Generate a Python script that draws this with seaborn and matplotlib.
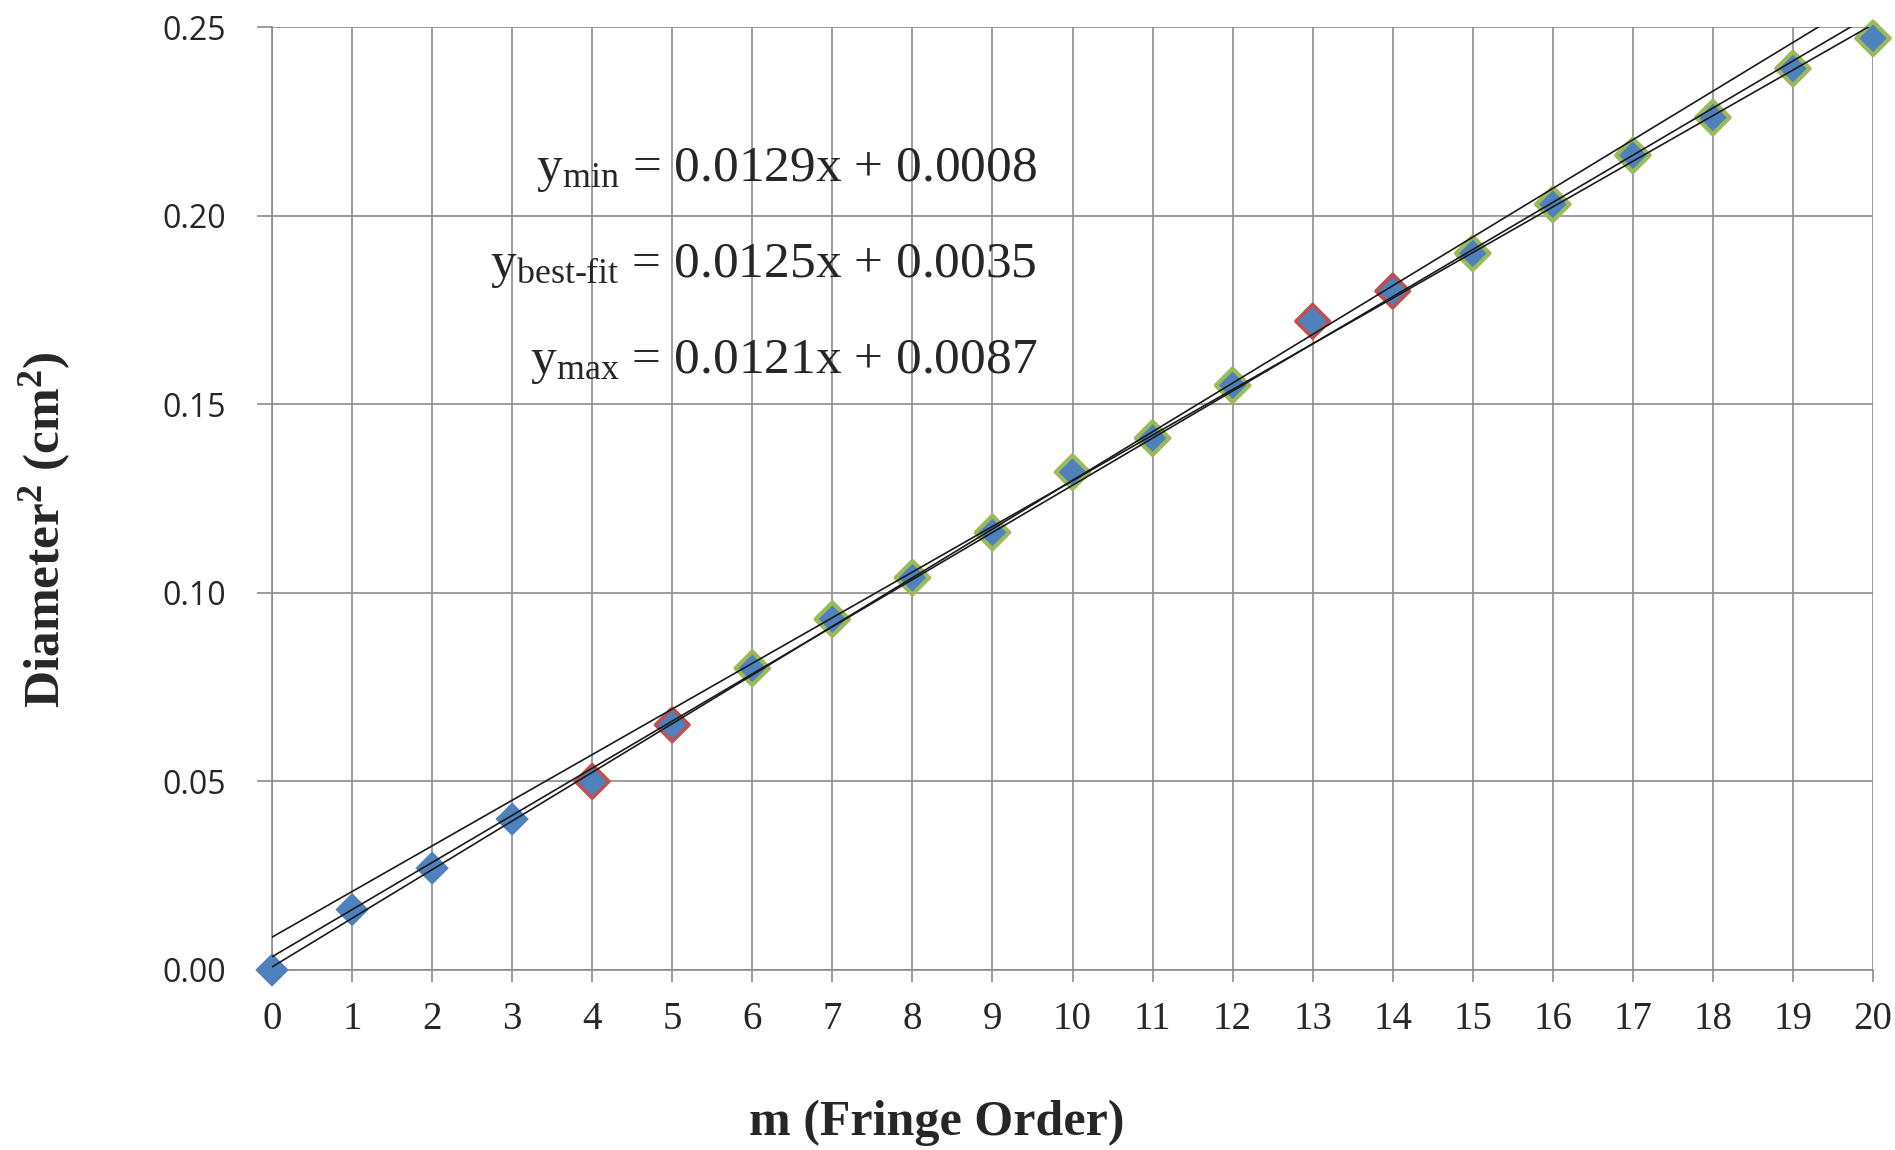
import matplotlib
matplotlib.use("Agg")
import matplotlib.pyplot as plt
import seaborn as sns
import numpy as np
import pandas as pd

# ---- data ----
m_order = list(range(0, 21))
diam_sq = [0.000, 0.016, 0.027, 0.040, 0.050, 0.065, 0.080, 0.093, 0.104, 0.116,
           0.132, 0.141, 0.155, 0.172, 0.180, 0.190, 0.203, 0.216, 0.226, 0.239, 0.247]
red_points = [4, 5, 13, 14]
green_points = [6, 7, 8, 9, 10, 11, 12, 15, 16, 17, 18, 19, 20]

fit_names = ["min", "best-fit", "max"]
fit_slopes = [0.0129, 0.0125, 0.0121]
fit_intercepts = [0.0008, 0.0035, 0.0087]
x_ticks = list(range(0, 21))
y_ticks = [0.00, 0.05, 0.10, 0.15, 0.20, 0.25]

BLUE = "#4F81BD"
RED = "#C0504D"
GREEN = "#9BBB59"
GRID = "#8C8C8C"

sns.set_theme(style="white")
plt.rcParams["mathtext.fontset"] = "custom"
plt.rcParams["mathtext.rm"] = "Liberation Serif"
plt.rcParams["mathtext.bf"] = "Liberation Serif:bold"
plt.rcParams["mathtext.it"] = "Liberation Serif:italic"

W, H = 1895, 1150
fig = plt.figure(figsize=(W / 100, H / 100), dpi=100)
ax = fig.add_axes([272 / W, 1 - 970 / H, (1873 - 272) / W, (970 - 27) / H])

MS = 290
df = pd.DataFrame({"m": m_order, "d2": diam_sq})
sns.scatterplot(data=df, x="m", y="d2", marker="D", s=MS, color=BLUE,
                edgecolor="none", linewidth=0, ax=ax, zorder=3, legend=False,
                clip_on=False)
df_r = df[df["m"].isin(red_points)]
df_g = df[df["m"].isin(green_points)]
sns.scatterplot(data=df_r, x="m", y="d2", marker="D", s=MS, facecolor="none",
                edgecolor=RED, linewidth=2.6, ax=ax, zorder=4, legend=False,
                clip_on=False)
sns.scatterplot(data=df_g, x="m", y="d2", marker="D", s=MS, facecolor="none",
                edgecolor=GREEN, linewidth=3.0, ax=ax, zorder=4, legend=False,
                clip_on=False)

# fit lines
xs = [m_order[0], m_order[-1]]
for name, k, b in zip(fit_names, fit_slopes, fit_intercepts):
    ldf = pd.DataFrame({"x": xs, "y": [k * xs[0] + b, k * xs[1] + b]})
    sns.lineplot(data=ldf, x="x", y="y", color="#1a1a1a", linewidth=1.2, ax=ax,
                 zorder=5, legend=False)

ax.set_xlim(0, 20)
ax.set_ylim(0, 0.25)
ax.set_xticks(x_ticks)
ax.set_yticks(y_ticks)
ax.set_yticklabels([f"{v:.2f}" for v in y_ticks], fontfamily="Open Sans", fontsize=23)
ax.set_xticklabels([str(v) for v in x_ticks], fontfamily="Liberation Serif", fontsize=28)
ax.tick_params(axis="y", direction="out", length=11, width=1.2, color=GRID, pad=22, left=True)
ax.tick_params(axis="x", direction="out", length=8.6, width=1.2, color=GRID, pad=14, bottom=True)
ax.grid(True, color=GRID, linewidth=1.2)
ax.set_axisbelow(True)
for s in ["top", "right"]:
    ax.spines[s].set_visible(False)
for s in ["left", "bottom"]:
    ax.spines[s].set_color(GRID)
    ax.spines[s].set_linewidth(1.2)
ax.set_xlabel("")
ax.set_ylabel("")

# axis titles
fig.text(937 / W, 1 - 1135 / H, "m (Fringe Order)", ha="center", va="baseline",
         fontfamily="Liberation Serif", fontweight="bold", fontsize=36)
fig.text(45 / W, 1 - 530 / H, r"Diameter$^{\mathbf{2}}$ (cm$^{\mathbf{2}}$)", ha="center",
         va="center", rotation=90, fontfamily="Liberation Serif", fontweight="bold", fontsize=37)

# equations
eq_base = [181, 277, 373]
for name, k, b, yb in zip(fit_names, fit_slopes, fit_intercepts, eq_base):
    label = r"$\mathrm{y}_{\text{" + name + r"}}$" + f" = {k:.4f}x + {b:.4f}"
    fig.text(1037 / W, 1 - yb / H, label, ha="right", va="baseline",
             fontfamily="Liberation Serif", fontsize=37)

fig.savefig("out.png", dpi=100)
